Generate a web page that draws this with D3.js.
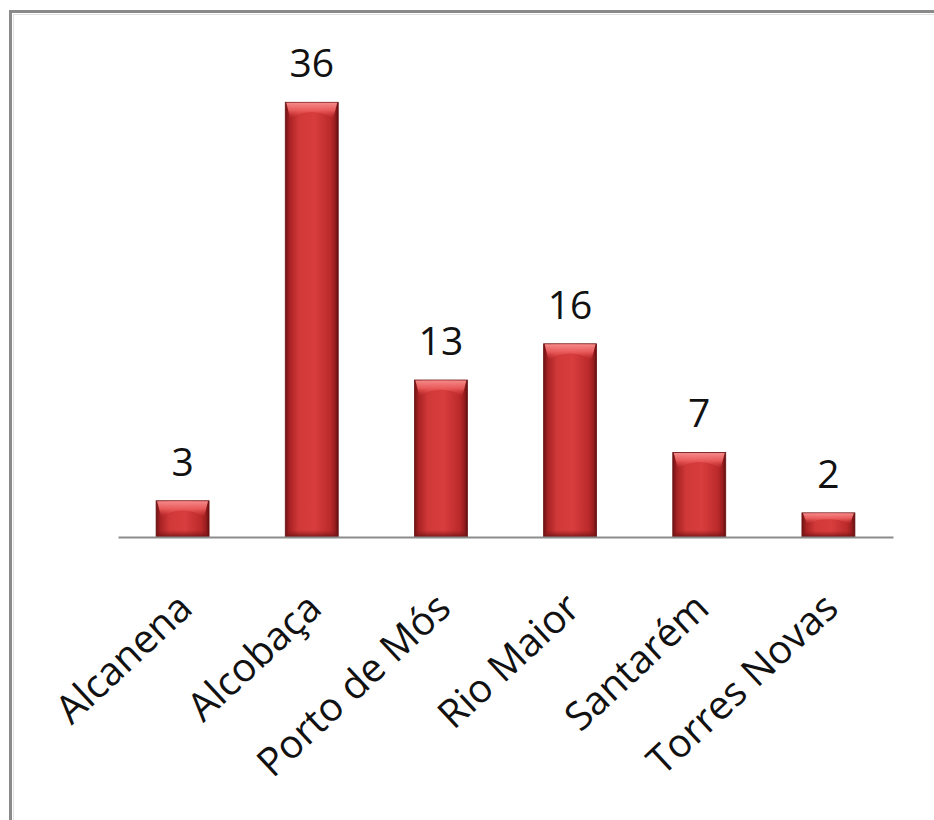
<!DOCTYPE html>
<html>
<head>
<meta charset="utf-8">
<script src="https://cdn.jsdelivr.net/npm/d3@7"></script>
<style>
  html, body { margin: 0; padding: 0; background: #fff; }
  svg { display: block; }
</style>
</head>
<body>
<script>
const categories = ["Alcanena", "Alcobaça", "Porto de Mós", "Rio Maior", "Santarém", "Torres Novas"];
const values = [3, 36, 13, 16, 7, 2];
const yMax = 40;

const W = 934, H = 820;
const svg = d3.select("body").append("svg").attr("width", W).attr("height", H);
const defs = svg.append("defs");

const hg = defs.append("linearGradient").attr("id", "barGrad").attr("x1", "0").attr("x2", "1").attr("y1", "0").attr("y2", "0");
[[0, "#6e1214"], [0.08, "#a82224"], [0.25, "#d03838"], [0.55, "#d93d3d"], [0.85, "#bb2a2b"], [0.94, "#9a1d1f"], [1, "#5e0f10"]]
  .forEach(([o, c]) => hg.append("stop").attr("offset", o).attr("stop-color", c));

const tg = defs.append("linearGradient").attr("id", "topGrad").attr("x1", "0").attr("x2", "0").attr("y1", "0").attr("y2", "1");
[[0, "#f58a8a", 1], [0.5, "#ec5e5e", 0.9], [1, "#d93d3d", 0]]
  .forEach(([o, c, a]) => tg.append("stop").attr("offset", o).attr("stop-color", c).attr("stop-opacity", a));

const bg = defs.append("linearGradient").attr("id", "botGrad").attr("x1", "0").attr("x2", "0").attr("y1", "0").attr("y2", "1");
[[0, "#8a1a1b", 0], [1, "#6a1213", 0.85]]
  .forEach(([o, c, a]) => bg.append("stop").attr("offset", o).attr("stop-color", c).attr("stop-opacity", a));

// outer border (extends past the right/bottom edges)
svg.append("rect").attr("x", 10.5).attr("y", 11.5).attr("width", 1200).attr("height", 1200)
  .attr("fill", "none").attr("stroke", "#8a8a8a").attr("stroke-width", 3);
svg.append("rect").attr("x", 13.5).attr("y", 14.5).attr("width", 1200).attr("height", 1200)
  .attr("fill", "none").attr("stroke", "#e2e2e2").attr("stroke-width", 1);

const x = d3.scaleBand().domain(categories).range([118, 893]).paddingInner(0.59).paddingOuter(0.295);
const y = d3.scaleLinear().domain([0, yMax]).range([537, 54]);

const data = categories.map((c, i) => ({ c, v: values[i] }));

const g = svg.append("g");
const bars = g.selectAll("g.bar").data(data).join("g").attr("class", "bar");

bars.append("rect")
  .attr("x", d => x(d.c)).attr("y", d => y(d.v))
  .attr("width", x.bandwidth()).attr("height", d => y(0) - y(d.v))
  .attr("fill", "url(#barGrad)").attr("stroke", "#6a1213").attr("stroke-width", 0.8);

// top bevel highlight
bars.append("path")
  .attr("d", d => {
    const x0 = x(d.c), w = x.bandwidth(), t = y(d.v);
    const h = Math.min(16, (y(0) - t) * 0.45);
    return `M${x0 + 1},${t + 0.5} L${x0 + w - 1},${t + 0.5} L${x0 + w - 5},${t + h} Q${x0 + w / 2},${t + h * 0.2} ${x0 + 5},${t + h} Z`;
  })
  .attr("fill", "url(#topGrad)");

// bottom shade
bars.append("rect")
  .attr("x", d => x(d.c) + 0.5).attr("y", d => y(0) - Math.min(7, (y(0) - y(d.v)) * 0.25))
  .attr("width", x.bandwidth() - 1).attr("height", d => Math.min(7, (y(0) - y(d.v)) * 0.25))
  .attr("fill", "url(#botGrad)");

// axis line
const xAxis = g.append("g").attr("transform", `translate(0,${y(0)})`)
  .call(d3.axisBottom(x).tickSize(0).tickFormat(""));
xAxis.select(".domain").attr("stroke", "#8c8c8c").attr("stroke-width", 2);

// value labels
bars.append("text")
  .attr("x", d => x(d.c) + x.bandwidth() / 2)
  .attr("y", d => y(d.v) - 25)
  .attr("text-anchor", "middle")
  .attr("font-family", "'Open Sans', sans-serif")
  .attr("font-size", 39)
  .attr("fill", "#111")
  .text(d => d.v);

// category labels
g.selectAll("text.cat").data(categories).join("text").attr("class", "cat")
  .attr("transform", c => `translate(${x(c) + x.bandwidth() / 2 + 12},${611}) rotate(-43)`)
  .attr("text-anchor", "end")
  .attr("font-family", "'Open Sans', sans-serif")
  .attr("font-size", 39.5)
  .attr("fill", "#111")
  .text(c => c);
</script>
</body>
</html>
